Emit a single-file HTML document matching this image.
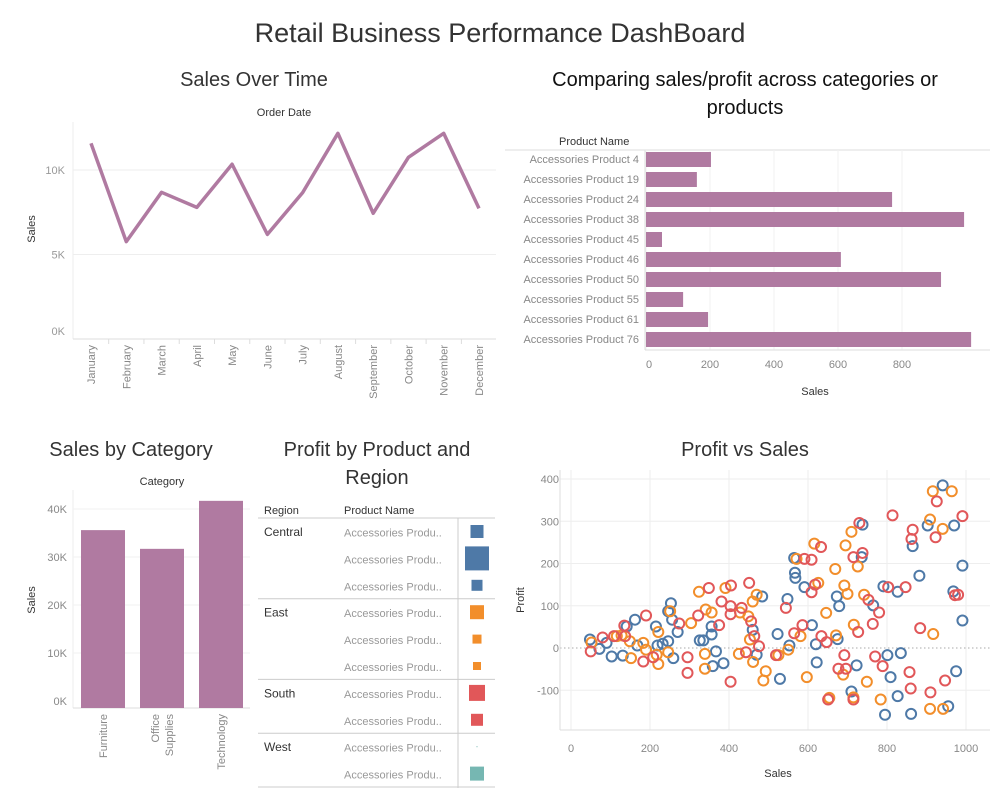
<!DOCTYPE html>
<html><head><meta charset="utf-8">
<style>
body{margin:0;background:#fff;font-family:"Liberation Sans","DejaVu Sans",sans-serif;}
svg{display:block}
text{font-family:"Liberation Sans","DejaVu Sans",sans-serif}
</style></head>
<body>
<svg id="root" width="999" height="799" viewBox="0 0 999 799">
<text x="500" y="42" text-anchor="middle" font-size="27" fill="#333">Retail Business Performance DashBoard</text>
<text x="254" y="86" text-anchor="middle" font-size="20" fill="#333">Sales Over Time</text>
<text x="745" y="86" text-anchor="middle" font-size="20" fill="#111">Comparing sales/profit across categories or</text>
<text x="745" y="114" text-anchor="middle" font-size="20" fill="#111">products</text>
<text x="131" y="456" text-anchor="middle" font-size="20" fill="#333">Sales by Category</text>
<text x="377" y="456" text-anchor="middle" font-size="20" fill="#333">Profit by Product and</text>
<text x="377" y="484" text-anchor="middle" font-size="20" fill="#333">Region</text>
<text x="745" y="456" text-anchor="middle" font-size="20" fill="#333">Profit vs Sales</text>
<g id="line"></g><g id="hbar"></g><g id="cat"></g><g id="tbl"></g><g id="sc"></g>
</svg>
<script>
const NS="http://www.w3.org/2000/svg";
function mk(p,t,a,txt){const e=document.createElementNS(NS,t);for(const k in a)e.setAttribute(k,a[k]);if(txt!==undefined)e.textContent=txt;p.appendChild(e);return e;}

// ---- Sales over time ----
const months=["January","February","March","April","May","June","July","August","September","October","November","December"];
const monthSales=[11.58,5.76,8.68,7.79,10.34,6.19,8.66,12.17,7.44,10.75,12.17,7.73];
const lineTicks=[0,5,10];
(function(){
 const g=document.getElementById('line');
 const y=v=>339-v*16.9, x=i=>91+i*(388/11);
 mk(g,'text',{x:284,y:116,'text-anchor':'middle','font-size':11,fill:'#333'},'Order Date');
 mk(g,'line',{x1:73,y1:122,x2:73,y2:339,stroke:'#eee'});
 lineTicks.forEach(t=>{
  if(t>0) mk(g,'line',{x1:73,y1:y(t),x2:496,y2:y(t),stroke:'#eee'});
  mk(g,'text',{x:65,y:y(t)+(t===0?-4:4),'text-anchor':'end','font-size':11,fill:'#999'},t+'K');
 });
 mk(g,'line',{x1:73,y1:339,x2:496,y2:339,stroke:'#ddd'});
 const yt=mk(g,'text',{x:0,y:0,transform:'translate(35,229) rotate(-90)','text-anchor':'middle','font-size':11,fill:'#333'},'Sales');
 
 
 months.forEach((m,i)=>{
  const t=mk(g,'text',{transform:`translate(${x(i)+4},345) rotate(-90)`,'text-anchor':'end','font-size':11,fill:'#888'},m);
  
  
  if(i>0) mk(g,'line',{x1:x(i)-17.6,y1:339,x2:x(i)-17.6,y2:344,stroke:'#ddd'});
 });
 const p=mk(g,'polyline',{points:monthSales.map((v,i)=>x(i)+','+y(v)).join(' '),fill:'none',stroke:'#b07aa1','stroke-width':3.5,'stroke-linejoin':'round'});
 
 
})();

// ---- Horizontal bars ----
const products=["Accessories Product 4","Accessories Product 19","Accessories Product 24","Accessories Product 38","Accessories Product 45","Accessories Product 46","Accessories Product 50","Accessories Product 55","Accessories Product 61","Accessories Product 76"];
const productSales=[203,159,769,994,50,609,922,116,194,1016];
const hTicks=[0,200,400,600,800];
(function(){
 const g=document.getElementById('hbar');
 const x=v=>646+v*0.32;
 mk(g,'text',{x:559,y:145,'font-size':11,fill:'#333'},'Product Name');
 mk(g,'line',{x1:505,y1:150,x2:990,y2:150,stroke:'#ddd'});
 hTicks.forEach(t=>{mk(g,'line',{x1:x(t),y1:150,x2:x(t),y2:350,stroke:'#f2f2f2'});
  mk(g,'text',{x:x(t)+(t===0?3:0),y:368,'text-anchor':'middle','font-size':11,fill:'#888'},t);});
 mk(g,'line',{x1:645,y1:150,x2:645,y2:350,stroke:'#ddd'});
 mk(g,'line',{x1:645,y1:350,x2:990,y2:350,stroke:'#ddd'});
 mk(g,'text',{x:815,y:395,'text-anchor':'middle','font-size':11,fill:'#333'},'Sales');
 products.forEach((p,i)=>{
  const cy=159+i*20;
  mk(g,'text',{x:639,y:cy+4,'text-anchor':'end','font-size':11,fill:'#888'},p);
  const r=mk(g,'rect',{x:646,y:cy-7,width:x(productSales[i])-646,height:15,fill:'#b07aa1'});
  
  
 });
})();

// ---- Sales by category ----
const categories=["Furniture","Office Supplies","Technology"];
const catSales=[35.6,31.7,41.7];
const catTicks=[0,10,20,30,40];
(function(){
 const g=document.getElementById('cat');
 const y=v=>701-v*4.8;
 mk(g,'text',{x:162,y:485,'text-anchor':'middle','font-size':11,fill:'#333'},'Category');
 mk(g,'line',{x1:73,y1:490,x2:73,y2:708,stroke:'#eee'});
 catTicks.forEach(t=>{if(t>0)mk(g,'line',{x1:73,y1:y(t),x2:250,y2:y(t),stroke:'#f2f2f2'});
  mk(g,'text',{x:67,y:y(t)+4,'text-anchor':'end','font-size':11,fill:'#888'},t+'K');});
 mk(g,'line',{x1:73,y1:708,x2:250,y2:708,stroke:'#ddd'});
 mk(g,'text',{transform:'translate(35,600) rotate(-90)','text-anchor':'middle','font-size':11,fill:'#333'},'Sales');
 categories.forEach((c,i)=>{
  const bx=81+i*59;
  const r=mk(g,'rect',{x:bx,y:y(catSales[i]),width:44,height:708-y(catSales[i]),fill:'#b07aa1'});
  
  
  const parts=c==='Office Supplies'?['Office','Supplies']:[c];
  parts.forEach((pt,j)=>mk(g,'text',{transform:`translate(${bx+26+j*-0+ (parts.length>1?(j*14-7):0)},714) rotate(-90)`,'text-anchor':'end','font-size':11,fill:'#888'},pt));
 });
})();

// ---- Table ----
const regions=["Central","East","South","West"];
const regionCounts=[3,3,2,2];
const squareSizes=[13,24,11,14,9,8,16,12,1,14];
const regionColors=["#4e79a7","#f28e2b","#e15759","#76b7b2"];
(function(){
 const g=document.getElementById('tbl');
 mk(g,'text',{x:264,y:514,'font-size':11,fill:'#333'},'Region');
 mk(g,'text',{x:344,y:514,'font-size':11,fill:'#333'},'Product Name');
 mk(g,'line',{x1:258,y1:518,x2:495,y2:518,stroke:'#ccc'});
 mk(g,'line',{x1:458,y1:518,x2:458,y2:788,stroke:'#ccc'});
 let row=0;
 regions.forEach((r,ri)=>{
  const top=518+row*26.9;
  mk(g,'text',{x:264,y:top+18,'font-size':12,fill:'#333'},r);
  for(let k=0;k<regionCounts[ri];k++){
   const cy=top+13.5+k*26.9;
   mk(g,'text',{x:344,y:cy+5,'font-size':11,fill:'#999'},'Accessories Produ..');
   const s=squareSizes[row];
   const q=mk(g,'rect',{x:477-s/2,y:cy-s/2,width:s,height:s,fill:regionColors[ri]});
   
   
   row++;
  }
  mk(g,'line',{x1:258,y1:518+row*26.9,x2:495,y2:518+row*26.9,stroke:'#ccc'});
 });
})();

// ---- Scatter ----
const blueSales=[48,72,90,103,131,141,162,168,215,219,232,246,253,246,256,259,270,326,335,356,356,367,359,386,460,470,484,523,529,548,553,565,567,568,591,610,620,622,673,679,675,710,723,736,738,765,791,795,801,809,827,827,835,861,865,882,903,941,955,968,970,975,991,991];
const blueProfit=[20,-2,12,-20,-18,51,67,6,51,6,10,16,106,87,67,-24,38,18,18,51,32,-8,-43,-36,43,-16,122,33,-73,116,6,213,178,166,144,54,9,-34,122,99,21,-103,-41,215,292,101,146,-158,-17,-69,133,-114,-12,-156,241,171,290,385,-138,134,290,-55,195,65];
const orangeSales=[52,116,128,149,152,183,190,217,221,221,251,246,304,324,339,339,341,356,391,425,428,449,453,460,470,461,487,493,525,550,571,581,597,616,626,646,654,669,671,689,692,695,700,710,716,715,726,742,749,784,909,909,917,916,941,942,964];
const orangeProfit=[13,28,30,16,-24,12,-4,-16,-38,38,87,-10,59,133,-14,-49,91,84,142,-14,84,75,20,110,126,-33,-77,-55,-17,-4,211,28,-69,247,154,83,-118,187,30,-63,148,243,128,275,55,-117,193,126,-80,-122,304,-144,33,371,282,-144,371];
const redSales=[50,80,109,135,137,183,190,208,274,295,295,322,349,375,381,404,404,405,404,432,443,451,456,464,476,519,544,565,586,591,609,609,618,633,634,647,651,677,692,696,715,715,727,730,738,753,764,770,780,789,803,814,847,857,860,862,865,884,910,923,926,947,972,980,991];
const redProfit=[-8,25,28,53,28,-32,77,-22,58,-22,-59,77,142,54,110,99,80,148,-80,95,-10,154,63,28,4,-17,95,35,54,211,209,132,150,239,28,14,-122,-49,-17,-49,215,-122,38,296,225,114,57,-20,84,-43,144,314,144,-57,-96,258,280,47,-105,262,347,-77,125,126,312];
const xTicks=[0,200,400,600,800,1000];
const yTicks=[-100,0,100,200,300,400];
(function(){
 const g=document.getElementById('sc');
 const x=v=>571+v*0.395, y=v=>648-v*0.4225;
 xTicks.forEach(t=>{mk(g,'line',{x1:x(t),y1:470,x2:x(t),y2:730,stroke:'#eee'});
  mk(g,'text',{x:x(t),y:752,'text-anchor':'middle','font-size':11,fill:'#888'},t);});
 yTicks.forEach(t=>{ if(t!==0) mk(g,'line',{x1:560,y1:y(t),x2:990,y2:y(t),stroke:'#eee'});
  mk(g,'text',{x:559,y:y(t)+4,'text-anchor':'end','font-size':11,fill:'#888'},t);});
 mk(g,'line',{x1:560,y1:y(0),x2:990,y2:y(0),stroke:'#aaa','stroke-dasharray':'1.5,2.5'});
 mk(g,'line',{x1:560,y1:470,x2:560,y2:730,stroke:'#ddd'});
 mk(g,'line',{x1:560,y1:730,x2:990,y2:730,stroke:'#ddd'});
 mk(g,'text',{x:778,y:777,'text-anchor':'middle','font-size':11,fill:'#333'},'Sales');
 mk(g,'text',{transform:'translate(524,600) rotate(-90)','text-anchor':'middle','font-size':11,fill:'#333'},'Profit');
 [[blueSales,blueProfit,'#4e79a7'],[orangeSales,orangeProfit,'#f28e2b'],[redSales,redProfit,'#e15759']].forEach(([xs,ys,c])=>{
  xs.forEach((v,i)=>{
   const ci=mk(g,'circle',{cx:x(v),cy:y(ys[i]),r:5,fill:'none',stroke:c,'stroke-width':2});
   
   
  });
 });
})();
</script>
</body></html>
